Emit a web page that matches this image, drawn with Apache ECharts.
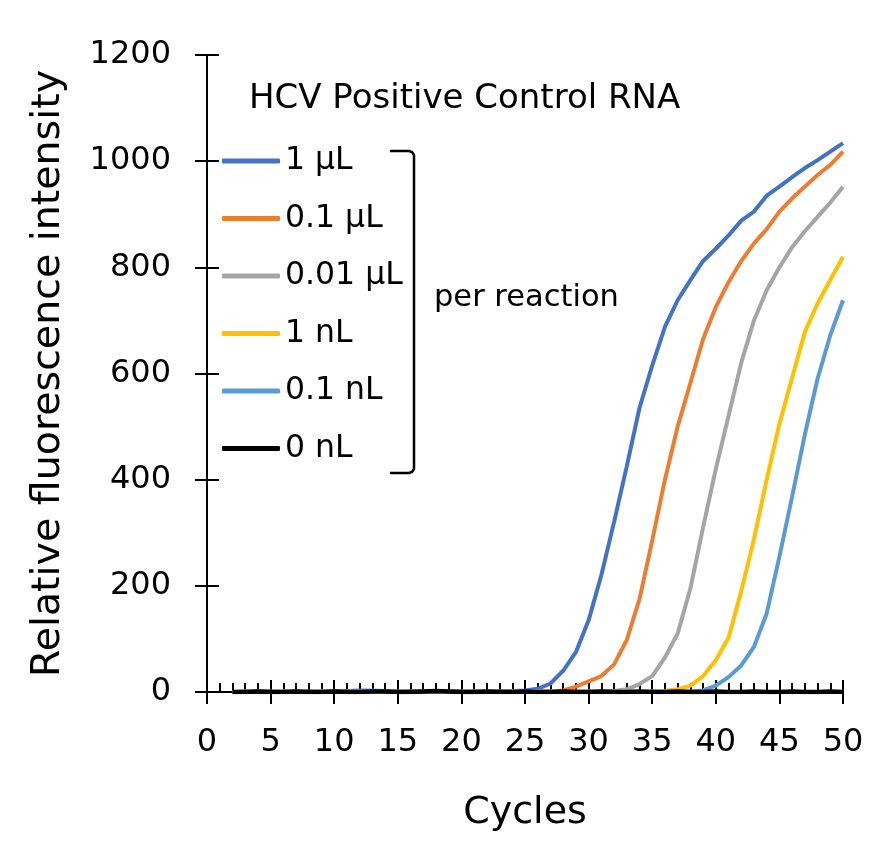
<!DOCTYPE html>
<html>
<head>
<meta charset="utf-8">
<script src="https://cdn.jsdelivr.net/npm/echarts@6/dist/echarts.min.js"></script>
<style>
html,body{margin:0;padding:0;background:#fff;}
#chart{width:894px;height:862px;}
</style>
</head>
<body>
<div id="chart"></div>
<script>
const cycles = [2,3,4,5,6,7,8,9,10,11,12,13,14,15,16,17,18,19,20,21,22,23,24,25,26,27,28,29,30,31,32,33,34,35,36,37,38,39,40,41,42,43,44,45,46,47,48,49,50];

const names = ['1 µL','0.1 µL','0.01 µL','1 nL','0.1 nL','0 nL'];
const colors = ['#4472C4','#ED7D31','#A5A5A5','#FFC000','#5B9BD5','#000000'];

const s1uL = [0,1,0,1,0,0,1,0,1,2,3,2,1,0,1,2,1,0,1,0,1,1,2,
  3,6,16,40,75,135,220,320,425,535,615,688,738,776,812,835,860,888,905,935,952,970,987,1002,1018,1034];
const s01uL = [0,0,1,0,1,0,0,1,1,0,1,2,1,0,1,1,0,1,1,0,0,1,0,1,1,
  1,3,10,20,30,52,98,175,285,400,500,582,665,725,772,812,845,872,905,930,952,974,993,1018];
const s001uL = [0,0,1,0,0,1,0,1,0,0,1,1,0,1,0,1,2,1,0,0,1,0,1,0,1,0,1,0,1,
  1,2,5,15,30,65,110,195,310,420,520,620,700,757,800,838,868,895,922,952];
const s1nL = [0,1,0,0,1,0,0,1,0,1,0,1,1,0,0,1,0,1,0,1,0,0,1,0,1,1,0,0,1,0,0,1,0,
  1,2,5,12,30,60,102,190,288,400,505,592,678,732,776,820];
const s01nL = [0,0,1,0,0,1,0,0,1,1,2,3,2,0,1,0,1,0,0,1,0,0,1,0,0,1,0,1,0,0,1,0,0,1,0,1,
  1,3,12,28,50,85,148,255,368,485,590,672,738];
const s0nL = [0,0,1,0,0,1,0,0,1,0,0,1,1,0,0,1,2,1,0,0,1,0,0,1,0,0,1,0,0,1,0,0,1,0,0,1,0,0,1,0,0,1,0,0,1,0,0,1,0];

const xTicks = [0,5,10,15,20,25,30,35,40,45,50];
const yTicks = [0,200,400,600,800,1000,1200];

const seriesValues = [s1uL,s01uL,s001uL,s1nL,s01nL,s0nL];
const FONT = 'DejaVu Sans';

const chart = echarts.init(document.getElementById('chart'));

const series = seriesValues.map((vals, i) => ({
  name: names[i],
  type: 'line',
  xAxisIndex: 0,
  yAxisIndex: 0,
  data: cycles.map((c, j) => [c, vals[j]]),
  showSymbol: false,
  symbol: 'none',
  smooth: false,
  lineStyle: {color: colors[i], width: i === 5 ? 4.5 : 4},
  itemStyle: {color: colors[i]},
  animation: false,
  z: 2 + i
}));

const xBase = {type:'value', min:xTicks[0], max:xTicks[xTicks.length-1], splitLine:{show:false}, gridIndex:0};
const yBase = {type:'value', min:yTicks[0], max:yTicks[yTicks.length-1], interval:200, splitLine:{show:false}, gridIndex:0};

chart.setOption({
  animation: false,
  backgroundColor: '#ffffff',
  textStyle: {fontFamily: FONT},
  title: {
    text: 'HCV Positive Control RNA',
    left: 249, top: 82, padding: 0,
    textStyle: {fontFamily: FONT, fontSize: 34, fontWeight: 'normal', color: '#000'}
  },
  legend: {
    orient: 'vertical',
    left: 222, top: 145, padding: 0,
    itemWidth: 58, itemHeight: 5, itemGap: 25.5,
    icon: 'roundRect',
    data: names,
    textStyle: {fontFamily: FONT, fontSize: 31.5, color: '#000', lineHeight: 30}
  },
  grid: {left: 207, right: 51, top: 55, bottom: 170, containLabel: false},
  xAxis: [
    Object.assign({}, xBase, {
      interval: 5,
      name: 'Cycles', nameLocation: 'middle', nameGap: 102,
      nameTextStyle: {fontFamily: FONT, fontSize: 38, color: '#000'},
      axisLine: {show: true, onZero: false, lineStyle: {color: '#000', width: 2}},
      axisTick: {show: true, inside: false, length: 12, lineStyle: {color: '#000', width: 2}},
      axisLabel: {fontFamily: FONT, fontSize: 32, color: '#000', margin: 35, formatter: v => String(v)}
    }),
    Object.assign({}, xBase, {
      interval: 1, position: 'bottom',
      axisLine: {show: false},
      axisTick: {show: true, inside: true, length: 9, lineStyle: {color: '#000', width: 2}},
      axisLabel: {show: false}
    }),
    Object.assign({}, xBase, {
      interval: 5, position: 'bottom',
      axisLine: {show: false},
      axisTick: {show: true, inside: true, length: 12, lineStyle: {color: '#000', width: 2}},
      axisLabel: {show: false}
    })
  ],
  yAxis: [
    Object.assign({}, yBase, {
      name: 'Relative fluorescence intensity', nameLocation: 'middle', nameGap: 138, nameRotate: 90,
      nameTextStyle: {fontFamily: FONT, fontSize: 39.5, color: '#000'},
      axisLine: {show: true, onZero: false, lineStyle: {color: '#000', width: 2}},
      axisTick: {show: true, inside: false, length: 12, lineStyle: {color: '#000', width: 2}},
      axisLabel: {fontFamily: FONT, fontSize: 32, color: '#000', margin: 36, formatter: v => String(v)}
    }),
    Object.assign({}, yBase, {
      position: 'left',
      axisLine: {show: false},
      axisTick: {show: true, inside: true, length: 12, lineStyle: {color: '#000', width: 2}},
      axisLabel: {show: false}
    })
  ],
  graphic: [
    {
      type: 'polyline',
      shape: {points: [[390,151],[409,151],[412,152],[414,155],[414,469],[412,472],[409,473],[390,473]]},
      style: {fill: null, stroke: '#000', lineWidth: 2.5},
      z: 10
    },
    {
      type: 'text',
      left: 434, top: 283,
      style: {text: 'per reaction', fontFamily: FONT, fontSize: 30.5, fill: '#000'},
      z: 10
    }
  ],
  series: series
});
</script>
</body>
</html>
